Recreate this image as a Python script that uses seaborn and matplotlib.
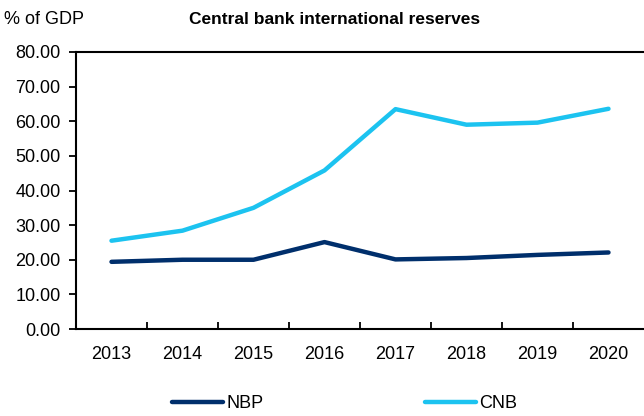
import matplotlib
matplotlib.use("Agg")
import matplotlib.pyplot as plt
import seaborn as sns
import pandas as pd
import numpy as np
from matplotlib.ticker import FixedLocator, FormatStrFormatter

years = ["2013", "2014", "2015", "2016", "2017", "2018", "2019", "2020"]
nbp = [19.4, 20.0, 20.0, 25.1, 20.1, 20.5, 21.4, 22.1]
cnb = [25.5, 28.4, 35.0, 45.8, 63.5, 59.0, 59.6, 63.6]
series_names = ["NBP", "CNB"]
colors = {"NBP": "#002F6C", "CNB": "#1CC3F0"}

df = pd.DataFrame({
    "year": years * 2,
    "value": nbp + cnb,
    "series": ["NBP"] * len(years) + ["CNB"] * len(years),
})

sns.set_theme(style="white")
font = ["Liberation Sans Narrow", "Liberation Sans", "DejaVu Sans"]
plt.rcParams["font.family"] = font
plt.rcParams["text.color"] = "black"

fig = plt.figure(figsize=(6.44, 4.16), dpi=100)
ax = fig.add_axes([76 / 644, 1 - 329 / 416, 1 - 76 / 644, (329 - 52) / 416])

x = np.arange(len(years))
df["pos"] = df["year"].map({y: i for i, y in enumerate(years)})
sns.lineplot(data=df, x="pos", y="value", hue="series", hue_order=series_names,
             palette=colors, linewidth=3.2, ax=ax, legend=True)

ax.set_xlim(-0.5, len(years) - 0.5)
ax.set_ylim(0, 80)
ax.set_yticks(np.arange(0, 81, 10))
ax.yaxis.set_major_formatter(FormatStrFormatter("%.2f"))
ax.set_xticks(x)
ax.set_xticklabels(years)
ax.xaxis.set_minor_locator(FixedLocator(np.arange(0.5, len(years) - 1, 1)))
ax.tick_params(axis="x", which="major", length=0, labelsize=13, pad=12, colors="black")
ax.tick_params(axis="x", which="minor", length=5, width=1.3, direction="in", bottom=True, color="black")
ax.tick_params(axis="y", which="major", length=5, width=1.3, direction="out", left=True, labelsize=13, pad=6, colors="black")
ax.set_xlabel("")
ax.set_ylabel("")

for s in ["left", "bottom", "top"]:
    ax.spines[s].set_visible(True)
    ax.spines[s].set_color("black")
    ax.spines[s].set_linewidth(1.5)
ax.spines["right"].set_visible(False)

fig.text(4 / 644, 1 - 20 / 416, "% of GDP", fontsize=13, va="center", ha="left", color="black")
fig.text(335 / 644, 1 - 20 / 416, "Central bank international reserves", fontsize=12.5,
         fontweight="bold", va="center", ha="center", color="black")

handles, labels = ax.get_legend_handles_labels()
ax.legend(handles, labels, loc="center", bbox_to_anchor=(345 / 644, 1 - 404 / 416),
          bbox_transform=fig.transFigure, ncol=2, frameon=False, fontsize=13,
          handlelength=2.8, handletextpad=0.2, columnspacing=8.95, labelcolor="black")

fig.savefig("out.png", dpi=100)
